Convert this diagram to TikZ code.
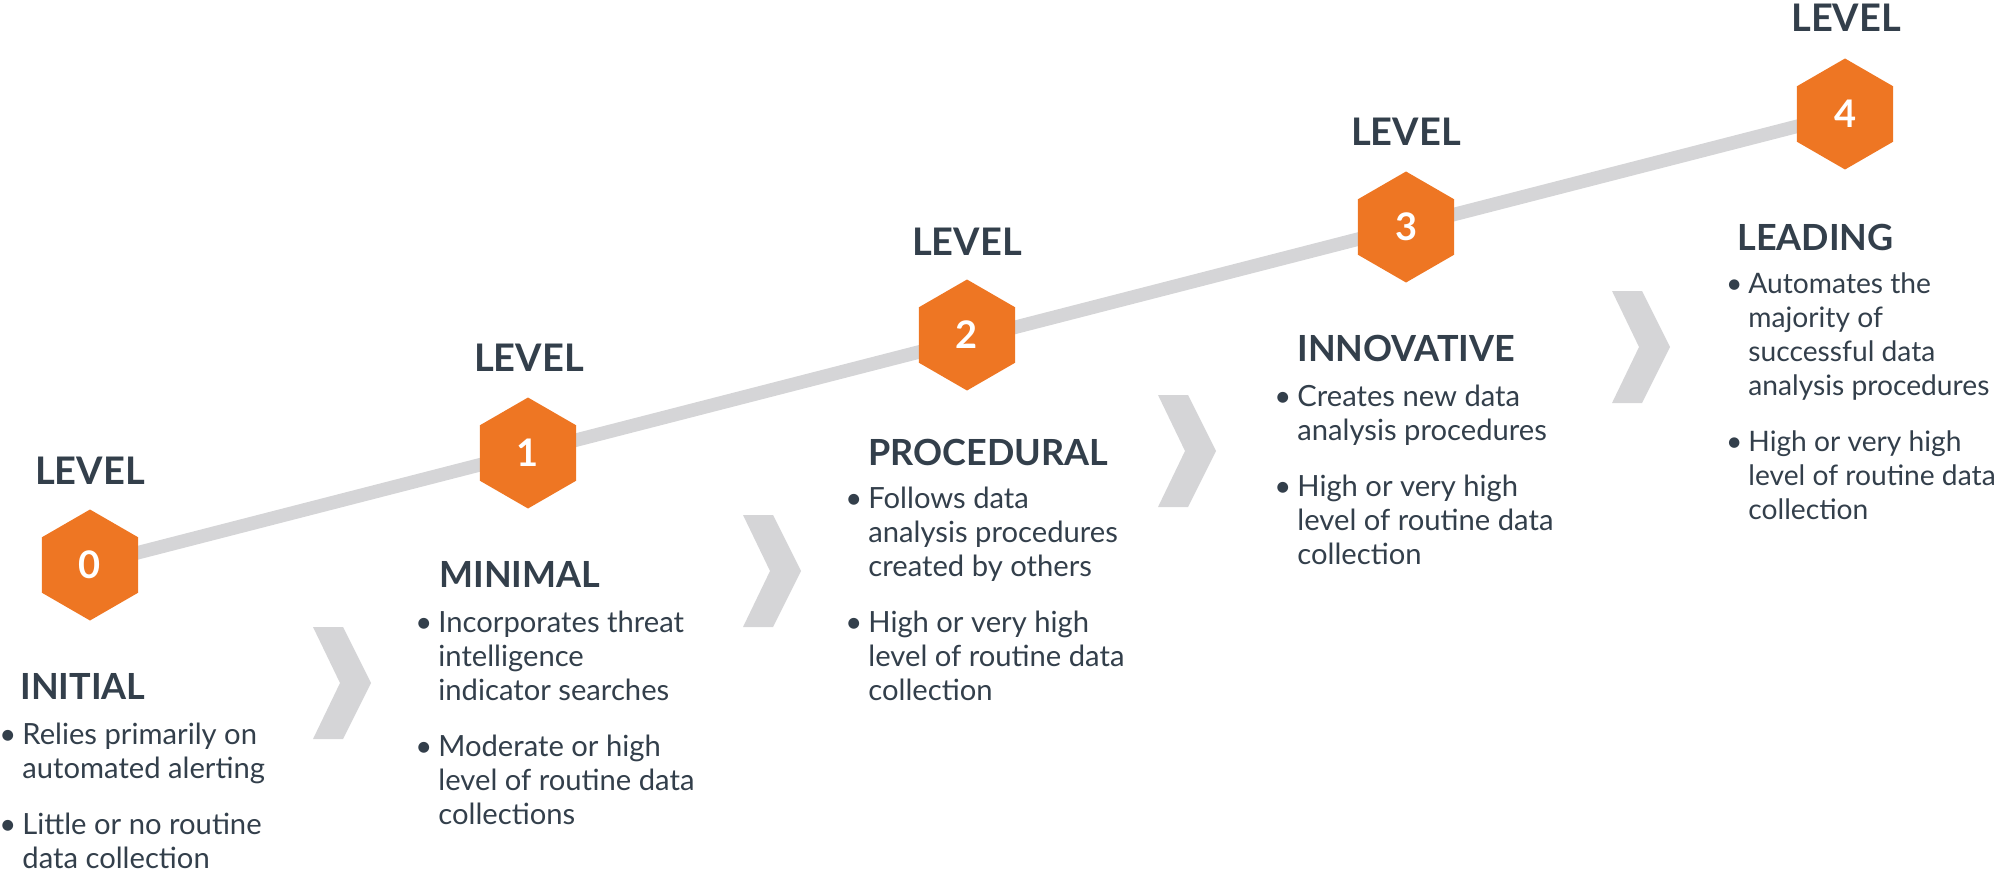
\documentclass[tikz,border=0pt]{standalone}
\usepackage{fontspec}
\setmainfont{Lato}
\usepackage{xcolor}
\usetikzlibrary{shapes.geometric,positioning}

\definecolor{hexorange}{HTML}{EE7623}
\definecolor{textdark}{HTML}{333F4B}
\definecolor{trackgray}{HTML}{D5D5D7}
\newcommand{\bul}{\makebox[0pt][r]{\textbullet\hspace{3pt}}}
\newenvironment{bulletlines}{\begin{tabular}[t]{@{}l@{}}}{\end{tabular}}

\tikzset{
  levelhex/.style={regular polygon, regular polygon sides=6, shape border rotate=30,
    minimum size=55.5pt, inner sep=0pt, fill=hexorange, text=white,
    font=\fontsize{19pt}{22pt}\selectfont\bfseries},
  leveltxt/.style={inner sep=0pt, anchor=base, text=textdark,
    font=\fontsize{19pt}{22pt}\selectfont\bfseries},
  titletxt/.style={inner sep=0pt, anchor=base west, text=textdark,
    font=\fontsize{18pt}{22pt}\selectfont\bfseries},
  bullettxt/.style={inner sep=0pt, anchor=base west, text=textdark,
    font=\fontsize{14.6pt}{17pt}\selectfont},
  track/.style={trackgray, line width=6.75pt}
}

\begin{document}
\begin{tikzpicture}[x=0.5pt, y=-0.5pt]
    \useasboundingbox (0,0) rectangle (2000,877);

    % Hexagon centres
    \coordinate (c0) at (90,565);
    \coordinate (c1) at (528,453);
    \coordinate (c2) at (967,335);
    \coordinate (c3) at (1406,227);
    \coordinate (c4) at (1845,114);

    % Track
    \draw[track] (c0) -- (c4);

    % Chevrons
    \fill[trackgray] (313,627) -- ++(30,0) -- ++(28,56) -- ++(-28,56) -- ++(-30,0) -- ++(27,-56) -- cycle;
    \fill[trackgray] (743,515) -- ++(30,0) -- ++(28,56) -- ++(-28,56) -- ++(-30,0) -- ++(27,-56) -- cycle;
    \fill[trackgray] (1158,395) -- ++(30,0) -- ++(28,56) -- ++(-28,56) -- ++(-30,0) -- ++(27,-56) -- cycle;
    \fill[trackgray] (1612,291) -- ++(30,0) -- ++(28,56) -- ++(-28,56) -- ++(-30,0) -- ++(27,-56) -- cycle;

    % Level hexagons
    \node[levelhex] (h0) at (c0) {0};
    \node[levelhex] (h1) at (c1) {1};
    \node[levelhex] (h2) at (c2) {2};
    \node[levelhex] (h3) at (c3) {3};
    \node[levelhex] (h4) at (c4) {4};

    % LEVEL labels
    \node[leveltxt] (l0) at (90,484) {LEVEL};
    \node[leveltxt] (l1) at (529,371) {LEVEL};
    \node[leveltxt] (l2) at (967,256) {LEVEL};
    \node[leveltxt] (l3) at (1406,146) {LEVEL};
    \node[leveltxt] (l4) at (1846,32) {LEVEL};

    % Titles
    \node[titletxt] (t0) at (20,699) {INITIAL};
    \node[titletxt] (t1) at (439,587) {MINIMAL};
    \node[titletxt] (t2) at (868,465) {PROCEDURAL};
    \node[titletxt] (t3) at (1297,361) {INNOVATIVE};
    \node[titletxt] (t4) at (1737,250) {LEADING};

    % Bullets
    \node[bullettxt] (b0) at (22,744) {\begin{bulletlines}
        \bul Relies primarily on\\automated alerting\\[11pt]
        \bul Little or no routine\\data collection\end{bulletlines}};
    \node[bullettxt] (b1) at (438,632) {\begin{bulletlines}
        \bul Incorporates threat\\intelligence\\indicator searches\\[11pt]
        \bul Moderate or high\\level of routine data\\collections\end{bulletlines}};
    \node[bullettxt] (b2) at (868,508) {\begin{bulletlines}
        \bul Follows data\\analysis procedures\\created by others\\[11pt]
        \bul High or very high\\level of routine data\\collection\end{bulletlines}};
    \node[bullettxt] (b3) at (1297,406) {\begin{bulletlines}
        \bul Creates new data\\analysis procedures\\[11pt]
        \bul High or very high\\level of routine data\\collection\end{bulletlines}};
    \node[bullettxt, font=\fontsize{14.1pt}{17pt}\selectfont] (b4) at (1748,293) {\begin{bulletlines}
        \bul Automates the\\majority of\\successful data\\analysis procedures\\[11pt]
        \bul High or very high\\level of routine data\\collection\end{bulletlines}};
\end{tikzpicture}
\end{document}
